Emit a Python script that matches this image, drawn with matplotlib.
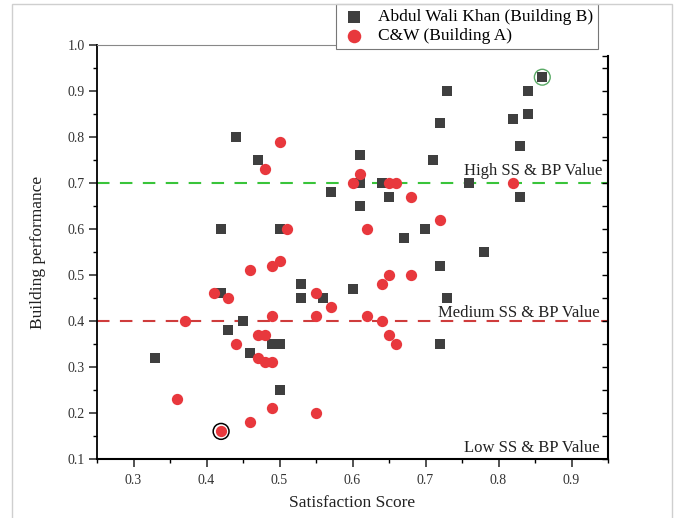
import numpy as np
import matplotlib
matplotlib.use('Agg')
import matplotlib.pyplot as plt
from matplotlib.patches import Rectangle

# Datos
# Edificio B (cuadrados grises)
sat_b = [0.33, 0.42, 0.42, 0.43, 0.44, 0.45, 0.46, 0.47, 0.49, 0.50,
         0.50, 0.50, 0.53, 0.53, 0.56, 0.57, 0.60, 0.61, 0.61, 0.61,
         0.64, 0.65, 0.67, 0.70, 0.71, 0.72, 0.72, 0.72, 0.73, 0.73,
         0.76, 0.78, 0.82, 0.83, 0.83, 0.84, 0.84, 0.86]
perf_b = [0.32, 0.60, 0.46, 0.38, 0.80, 0.40, 0.33, 0.75, 0.35, 0.35,
          0.60, 0.25, 0.48, 0.45, 0.45, 0.68, 0.47, 0.76, 0.70, 0.65,
          0.70, 0.67, 0.58, 0.60, 0.75, 0.83, 0.52, 0.35, 0.90, 0.45,
          0.70, 0.55, 0.84, 0.78, 0.67, 0.90, 0.85, 0.93]

# Edificio A (circulos rojos)
sat_a = [0.36, 0.37, 0.41, 0.42, 0.43, 0.44, 0.46, 0.46, 0.47, 0.47,
         0.48, 0.48, 0.48, 0.49, 0.49, 0.49, 0.49, 0.50, 0.50, 0.51,
         0.55, 0.55, 0.55, 0.57, 0.60, 0.61, 0.62, 0.62, 0.64, 0.64,
         0.65, 0.65, 0.65, 0.66, 0.66, 0.68, 0.68, 0.72, 0.82]
perf_a = [0.23, 0.40, 0.46, 0.16, 0.45, 0.35, 0.51, 0.18, 0.37, 0.32,
          0.73, 0.37, 0.31, 0.52, 0.41, 0.31, 0.21, 0.79, 0.53, 0.60,
          0.46, 0.41, 0.20, 0.43, 0.70, 0.72, 0.60, 0.41, 0.48, 0.40,
          0.70, 0.50, 0.37, 0.70, 0.35, 0.67, 0.50, 0.62, 0.70]

label_b = 'Abdul Wali Khan (Building B)'
label_a = 'C&W (Building A)'

# limites de las zonas
high_val = 0.7
medium_val = 0.4

# puntos resaltados
best_point = (0.86, 0.93)
worst_point = (0.42, 0.16)

plt.rcParams['font.family'] = ['Liberation Serif', 'DejaVu Serif']

fig = plt.figure(figsize=(6.76, 5.18), dpi=100)
ax = fig.add_axes([97 / 676, 1 - 459 / 518, 511 / 676, 414 / 518])

ax.scatter(sat_b, perf_b, marker='s', s=46, c='#3f3f3f', lw=0, zorder=3, label=label_b)
ax.scatter(sat_a, perf_a, marker='o', s=66, c='#e8383d', lw=0, zorder=4, label=label_a)

ax.axhline(high_val, color='#39c43a', lw=1.5, dashes=(6, 5), zorder=2)
ax.axhline(medium_val, color='#cf3c3c', lw=1.5, dashes=(6, 5), zorder=2)

ax.scatter([best_point[0]], [best_point[1]], marker='o', s=130, facecolors='none',
           edgecolors='#5aaa66', lw=1.0, zorder=5)
ax.scatter([worst_point[0]], [worst_point[1]], marker='o', s=130, facecolors='none',
           edgecolors='black', lw=1.1, zorder=5)

ax.text(0.942, 0.717, 'High SS & BP Value', ha='right', va='baseline', fontsize=12, color='#222222')
ax.text(0.938, 0.409, 'Medium SS & BP Value', ha='right', va='baseline', fontsize=12, color='#222222')
ax.text(0.938, 0.115, 'Low SS & BP Value', ha='right', va='baseline', fontsize=12, color='#222222')

ax.set_xlim(0.25, 0.95)
ax.set_ylim(0.1, 1.0)
ax.set_xticks(np.arange(0.3, 0.91, 0.1))
ax.set_xticks(np.arange(0.25, 0.96, 0.05), minor=True)
ax.set_yticks(np.arange(0.1, 1.01, 0.1))
ax.set_yticks(np.arange(0.1, 1.01, 0.05), minor=True)
ax.xaxis.set_major_formatter(matplotlib.ticker.FormatStrFormatter('%.1f'))
ax.yaxis.set_major_formatter(matplotlib.ticker.FormatStrFormatter('%.1f'))

ax.tick_params(which='major', direction='out', length=6, width=1.2, labelsize=10,
               colors='#333333', top=False, right=False)
ax.tick_params(which='minor', direction='out', length=3, width=1.0, top=False, right=False)
ax.tick_params(axis='x', pad=5)
ax.tick_params(axis='y', pad=3)

ax.spines['right'].set_visible(False)
ax.spines['top'].set_color('#888888')
ax.spines['top'].set_linewidth(0.8)
ax.spines['top'].set_bounds(0.25, 0.85)
ax.spines['left'].set_linewidth(1.3)
ax.spines['bottom'].set_linewidth(1.5)

# eje derecho con ticks hacia adentro
ax2 = ax.twinx()
ax2.set_ylim(0.1, 1.0)
ax2.set_yticks(np.arange(0.1, 0.91, 0.1))
ax2.set_yticks(list(np.arange(0.15, 0.96, 0.1)) + [0.975], minor=True)
ax2.tick_params(which='both', direction='in', length=4, width=1.0, labelright=False)
for s in ['top', 'left', 'bottom']:
    ax2.spines[s].set_visible(False)
ax2.spines['right'].set_linewidth(1.5)
ax2.spines['right'].set_bounds(0.1, 0.975)

ax.set_xlabel('Satisfaction Score', fontsize=12.5, color='#222222')
ax.set_ylabel('Building performance', fontsize=12.5, color='#222222')
ax.xaxis.set_label_coords(0.5, -0.088)
ax.yaxis.set_label_coords(-0.1, 0.5)

leg = ax.legend(loc='upper right', bbox_to_anchor=(598 / 676, 1 - 4 / 518),
                bbox_transform=fig.transFigure, fontsize=12.5, frameon=True,
                fancybox=False, edgecolor='#777777', framealpha=1.0,
                borderpad=0.3, labelspacing=0.15, handletextpad=0.6,
                handlelength=1.5, borderaxespad=0, markerscale=1.2)
leg.get_frame().set_linewidth(0.8)
leg.set_zorder(10)

# marco gris alrededor de la imagen
fig.add_artist(Rectangle((12 / 676, -0.01), 660 / 676, 1.01 - 4 / 518,
                         transform=fig.transFigure, fill=False,
                         edgecolor='#cfcfcf', lw=1.0))

fig.savefig('out.png', dpi=100)
